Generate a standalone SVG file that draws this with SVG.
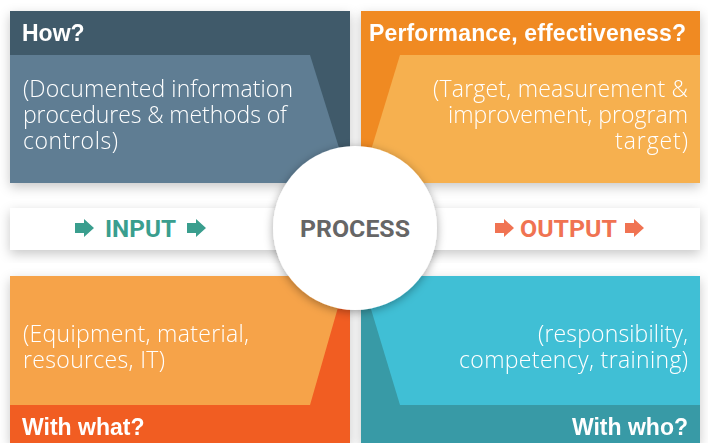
<svg xmlns="http://www.w3.org/2000/svg" width="708" height="443" viewBox="0 0 708 443">
  <defs>
    <filter id="shadow" x="-20%" y="-30%" width="140%" height="160%">
      <feDropShadow dx="0" dy="4" stdDeviation="6" flood-color="#000" flood-opacity="0.22"/>
    </filter>
    <filter id="cshadow" x="-30%" y="-30%" width="160%" height="160%">
      <feDropShadow dx="0" dy="2" stdDeviation="5" flood-color="#000" flood-opacity="0.35"/>
    </filter>
    <path id="arrow" d="M0,-5 H9 V-9 L19,0 L9,9 V5 H0 Z"/>
  </defs>
  <style>
    .head { font-family: "Liberation Sans", Arial, sans-serif; font-weight: bold; font-size: 23px; fill: #ffffff; }
    .body { font-family: "Open Sans", "Liberation Sans", sans-serif; font-weight: 300; font-size: 23px; fill: #ffffff; }
    .mid { font-family: Roboto, "Liberation Sans", sans-serif; font-weight: bold; font-size: 24px; }
    .end { text-anchor: end; }
  </style>
  <rect width="708" height="443" fill="#ffffff"/>

  <!-- top left: How? -->
  <g id="how" filter="url(#shadow)">
    <rect x="10" y="11" width="340" height="172" fill="#415a6a"/>
    <path d="M10,55 H310 L350,183 H10 Z" fill="#5e7d93"/>
    <text class="head" x="22" y="41">How?</text>
    <text class="body" x="23" y="97" textLength="270">(Documented information</text>
    <text class="body" x="23" y="123" textLength="264">procedures &amp; methods of</text>
    <text class="body" x="23" y="149" textLength="95">controls)</text>
  </g>

  <!-- top right: Performance -->
  <g id="performance" filter="url(#shadow)">
    <rect x="361" y="11" width="339" height="172" fill="#f08a24"/>
    <path d="M400,55 H700 V183 H361 Z" fill="#f6b04f"/>
    <text class="head" x="369" y="41" textLength="317">Performance, effectiveness?</text>
    <text class="body end" x="688" y="97" textLength="255">(Target, measurement &amp;</text>
    <text class="body end" x="688" y="123" textLength="240">improvement, program</text>
    <text class="body end" x="688" y="149" textLength="73">target)</text>
  </g>

  <!-- bottom left: With what? -->
  <g id="with-what" filter="url(#shadow)">
    <rect x="10" y="276" width="340" height="167" fill="#f15d22"/>
    <path d="M10,276 H347 L310,405 H10 Z" fill="#f6a34a"/>
    <text class="body" x="23" y="342" textLength="226">(Equipment, material,</text>
    <text class="body" x="23" y="368" textLength="142">resources, IT)</text>
    <text class="head" x="22" y="435">With what?</text>
  </g>

  <!-- bottom right: With who? -->
  <g id="with-who" filter="url(#shadow)">
    <rect x="361" y="276" width="339" height="167" fill="#389aa6"/>
    <path d="M361,276 H700 V405 H400 Z" fill="#41bfd5"/>
    <text class="body end" x="688" y="342" textLength="150">(responsibility,</text>
    <text class="body end" x="688" y="368" textLength="229">competency, training)</text>
    <text class="head end" x="688" y="435">With who?</text>
  </g>

  <!-- middle band -->
  <g id="band" filter="url(#shadow)">
    <rect x="10" y="208" width="690" height="42" fill="#ffffff"/>
  </g>

  <g id="input">
    <use href="#arrow" x="75" y="228" fill="#3a9e8e"/>
    <text class="mid" x="105" y="236.5" fill="#3a9e8e" textLength="71" lengthAdjust="spacingAndGlyphs">INPUT</text>
    <use href="#arrow" x="187" y="228" fill="#3a9e8e"/>
  </g>

  <g id="output">
    <use href="#arrow" x="495" y="228" fill="#f07352"/>
    <text class="mid" x="520" y="236.5" fill="#f07352" textLength="97" lengthAdjust="spacingAndGlyphs">OUTPUT</text>
    <use href="#arrow" x="625" y="228" fill="#f07352"/>
  </g>

  <!-- central circle -->
  <g id="process">
    <circle cx="355" cy="228" r="82" fill="#ffffff" filter="url(#cshadow)"/>
    <text class="mid" x="300" y="236.5" fill="#666666" textLength="110" lengthAdjust="spacingAndGlyphs">PROCESS</text>
  </g>
</svg>
